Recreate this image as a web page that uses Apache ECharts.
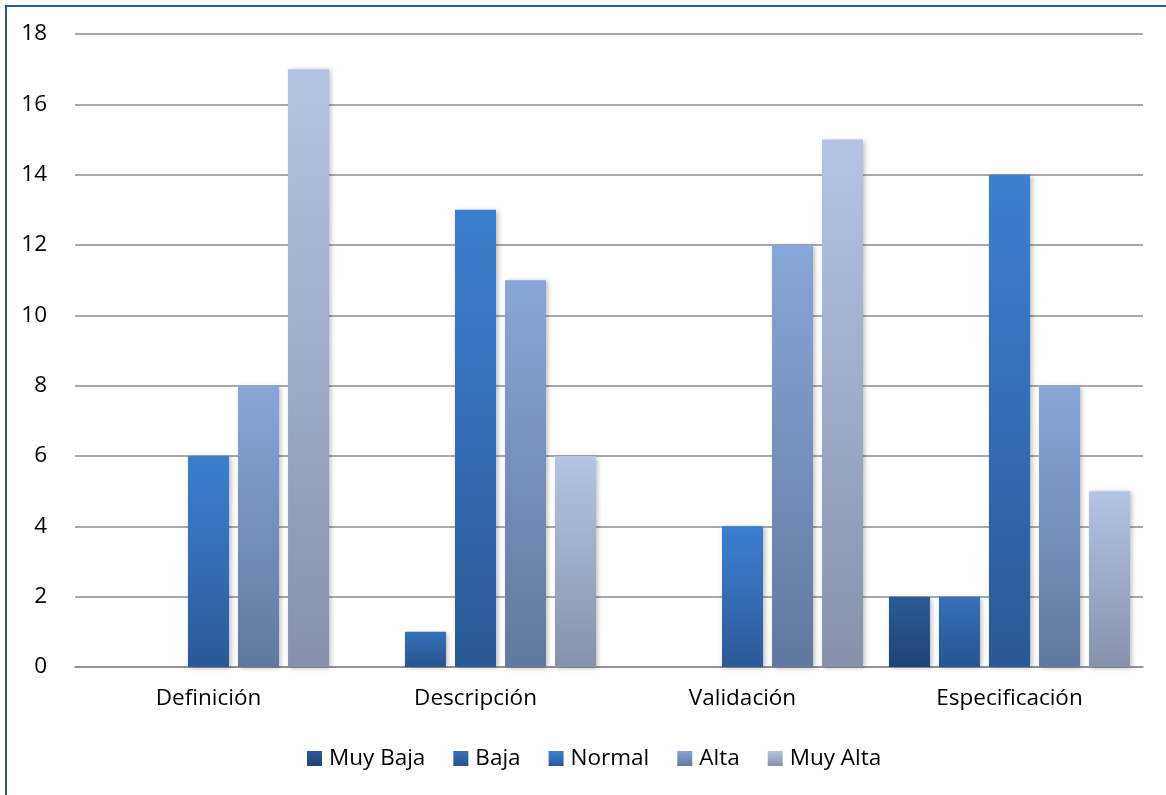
<!DOCTYPE html>
<html>
<head>
<meta charset="utf-8">
<script src="https://cdn.jsdelivr.net/npm/echarts@6/dist/echarts.min.js"></script>
<style>
  html, body { margin: 0; padding: 0; background: #ffffff; }
  #frame {
    position: absolute; left: 5px; top: 5px; width: 1200px; height: 900px;
    border: 2px solid #2f5a8f; box-sizing: border-box;
  }
  #chart { position: absolute; left: 0; top: 0; width: 1166px; height: 795px; }
</style>
</head>
<body>
<div id="frame"></div>
<div id="chart"></div>
<script>
// Categories and series values
const categories = ['Definición', 'Descripción', 'Validación', 'Especificación'];
const seriesNames = ['Muy Baja', 'Baja', 'Normal', 'Alta', 'Muy Alta'];
const muyBaja = [0, 0, 0, 2];
const baja = [0, 1, 0, 2];
const normal = [6, 13, 4, 14];
const alta = [8, 11, 12, 8];
const muyAlta = [17, 6, 15, 5];
const yTicks = [0, 2, 4, 6, 8, 10, 12, 14, 16, 18];

// Top / bottom gradient colours for each series
const gradients = [
  ['#2b5b97', '#1e4474'],
  ['#3571bb', '#28548f'],
  ['#3c80d1', '#2c5997'],
  ['#88a6d8', '#63789e'],
  ['#b4c4e2', '#8792aa']
];
const values = [muyBaja, baja, normal, alta, muyAlta];
const FONT = 'Open Sans';
const FONT_SIZE = 22.5;

const chart = echarts.init(document.getElementById('chart'), null, { renderer: 'canvas' });

const series = seriesNames.map((name, i) => ({
  name: name,
  type: 'bar',
  data: values[i],
  barWidth: 41,
  barGap: '22%',
  itemStyle: {
    color: new echarts.graphic.LinearGradient(0, 0, 0, 1, [
      { offset: 0, color: gradients[i][0] },
      { offset: 1, color: gradients[i][1] }
    ]),
    shadowColor: 'rgba(0,0,0,0.28)',
    shadowBlur: 5,
    shadowOffsetX: 2,
    shadowOffsetY: 1
  }
}));

chart.setOption({
  animation: false,
  backgroundColor: 'transparent',
  grid: { left: 75, right: 23, top: 34, bottom: 128, containLabel: false },
  legend: {
    data: seriesNames.map((n, i) => ({
      name: n,
      itemStyle: {
        color: new echarts.graphic.LinearGradient(0, 0, 0, 1, [
          { offset: 0, color: gradients[i][0] },
          { offset: 1, color: gradients[i][1] }
        ])
      }
    })),
    top: 742,
    left: 302,
    icon: 'rect',
    itemWidth: 15,
    itemHeight: 15,
    itemGap: 28,
    textStyle: { fontFamily: FONT, fontSize: FONT_SIZE, color: '#000000', padding: [0, 0, 0, 2] }
  },
  xAxis: {
    type: 'category',
    data: categories,
    axisTick: { show: false },
    axisLine: { show: true, lineStyle: { color: '#8c8c8c', width: 1.5 } },
    axisLabel: { fontFamily: FONT, fontSize: FONT_SIZE, color: '#000000', margin: 20 }
  },
  yAxis: {
    type: 'value',
    min: yTicks[0],
    max: yTicks[yTicks.length - 1],
    interval: yTicks[1] - yTicks[0],
    axisLine: { show: false },
    axisTick: { show: false },
    axisLabel: { fontFamily: FONT, fontSize: FONT_SIZE, color: '#000000', margin: 28 },
    splitLine: { lineStyle: { color: '#8c8c8c', width: 1.5 } }
  },
  series: series
});
</script>
</body>
</html>
